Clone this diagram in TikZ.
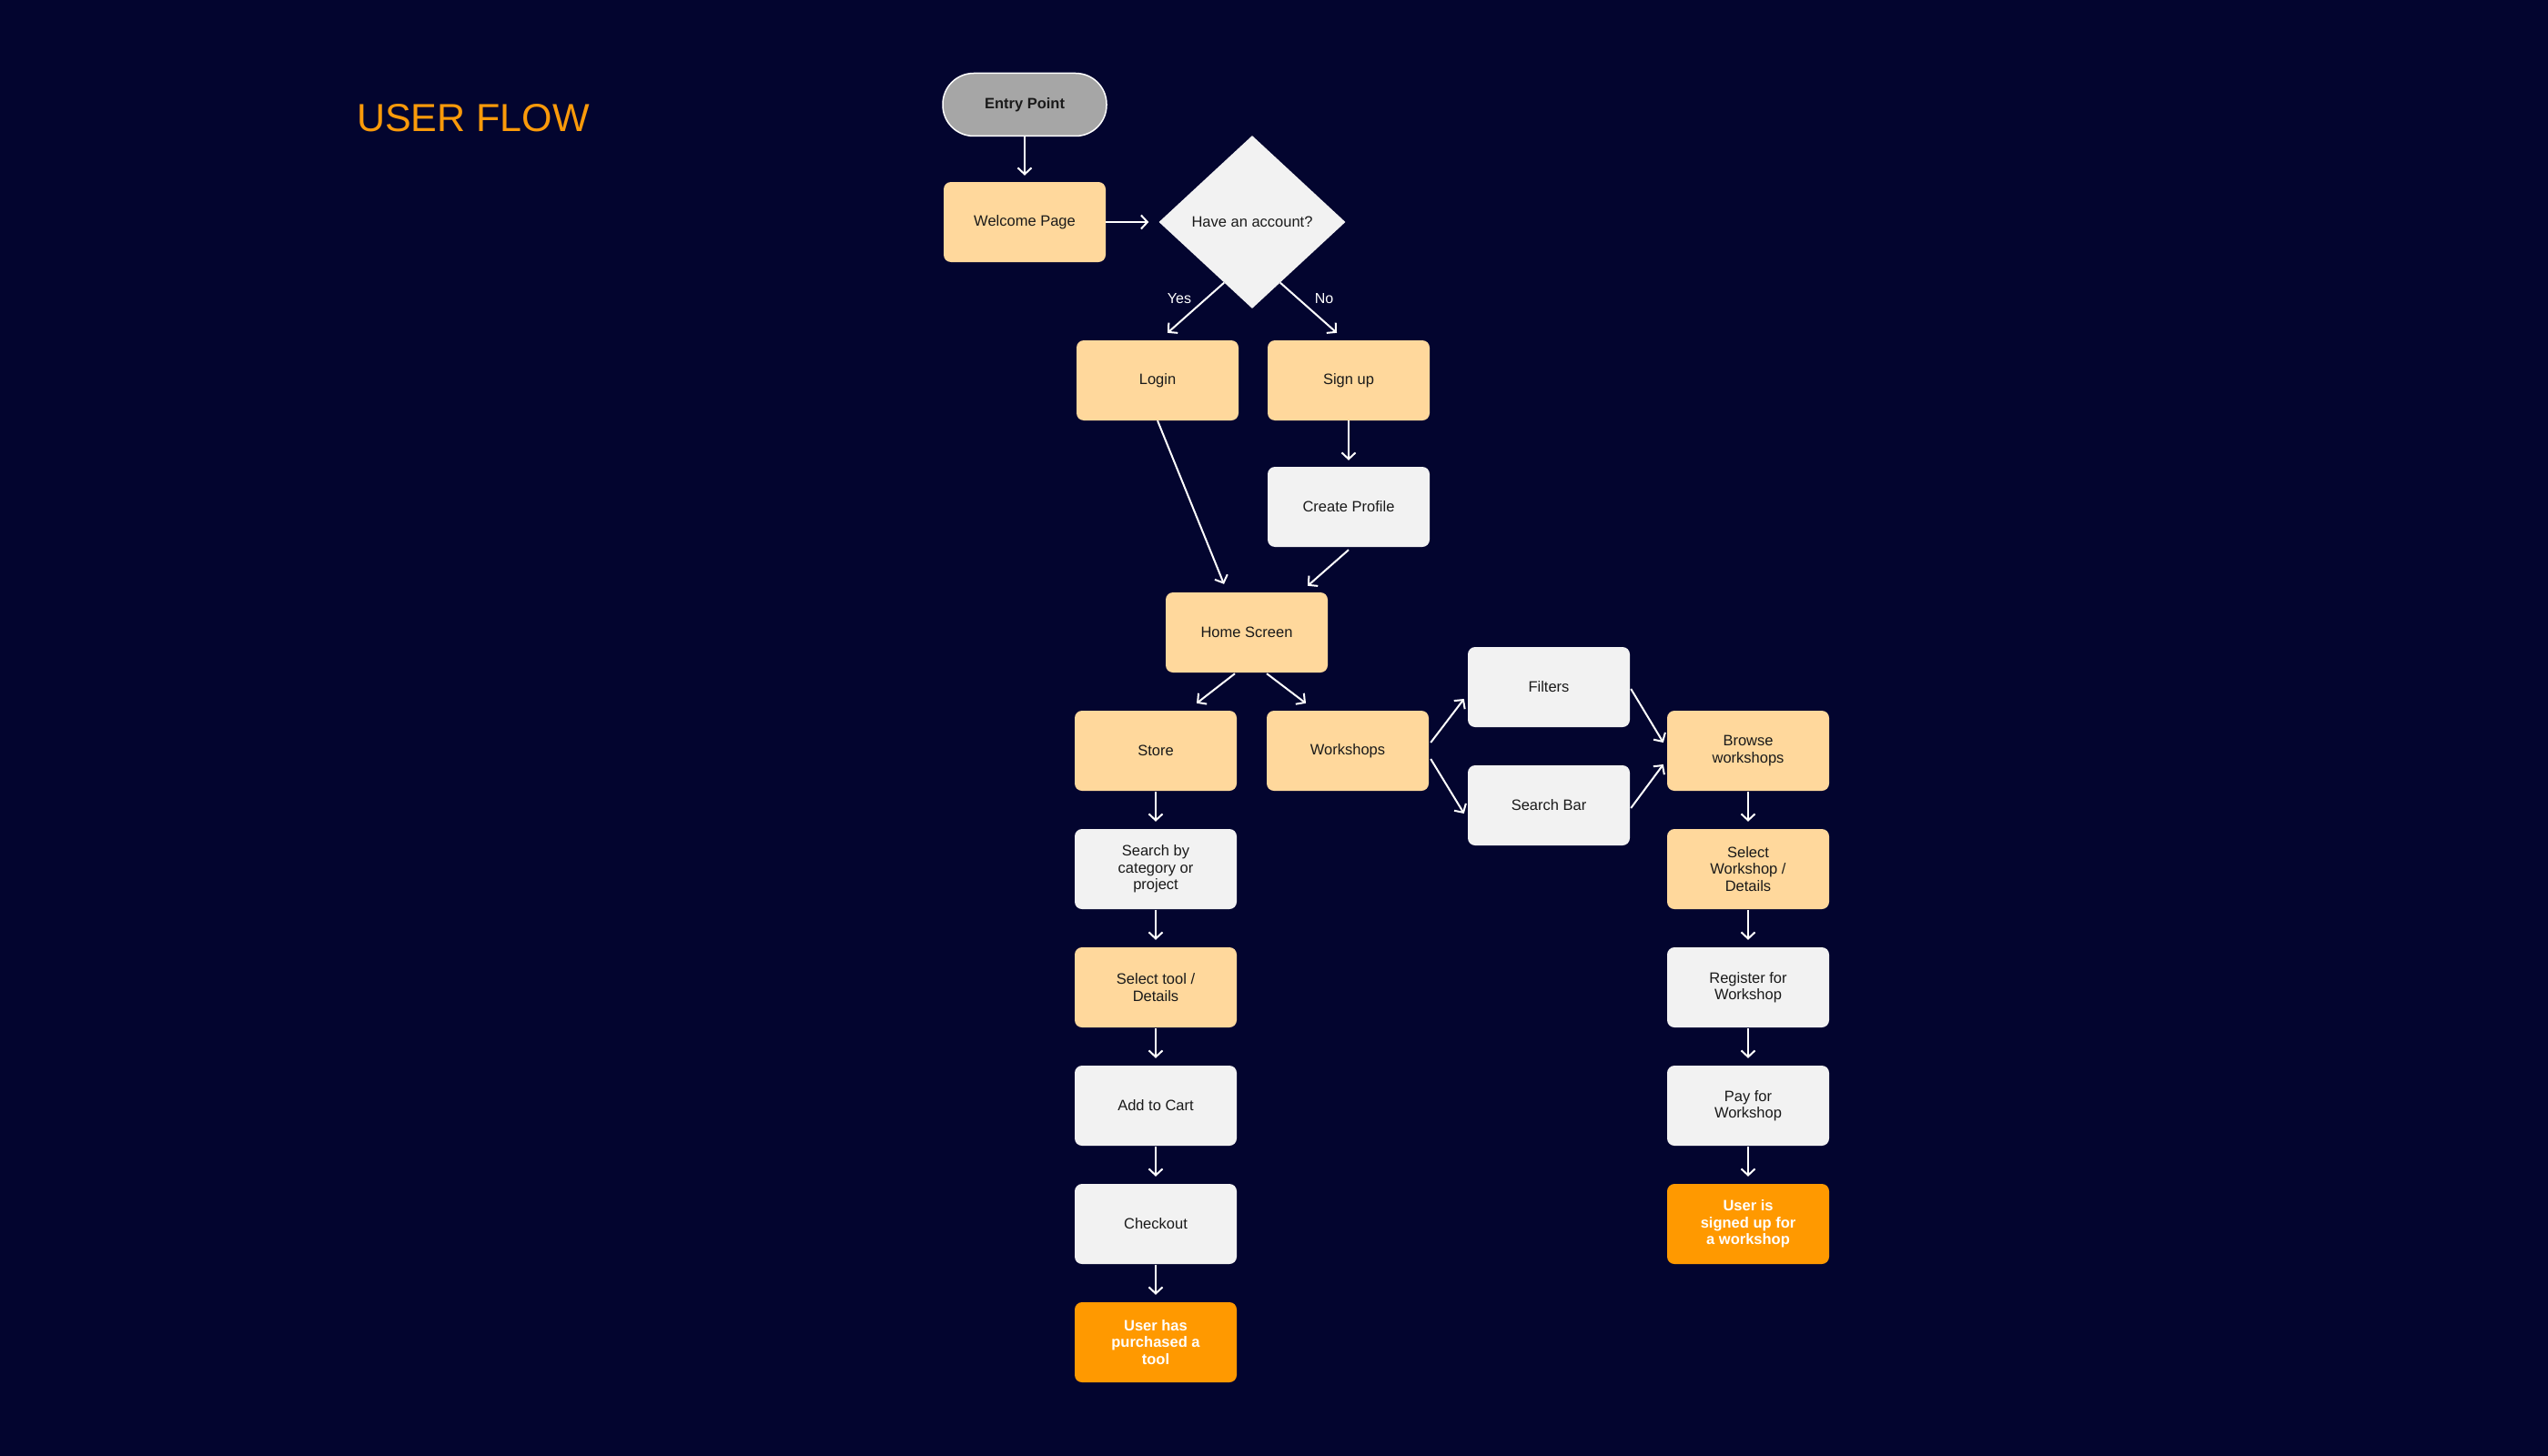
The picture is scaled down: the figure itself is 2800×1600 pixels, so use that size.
\documentclass[tikz,border=0pt]{standalone}
\usepackage{fontspec}
\setmainfont{Liberation Sans}
\usetikzlibrary{shapes.geometric,arrows.meta,calc}
\definecolor{bg}{HTML}{03052F}
\definecolor{peach}{HTML}{FFD89C}
\definecolor{lgray}{HTML}{F2F2F2}
\definecolor{orng}{HTML}{FF9900}
\definecolor{entrygray}{HTML}{A6A6A6}
\definecolor{titleor}{HTML}{FA9A0A}
\definecolor{txt}{HTML}{1A1A1A}
\begin{document}
\begin{tikzpicture}[x=1pt,y=-1pt,
  box/.style={rectangle, rounded corners=8pt, minimum width=178pt, minimum height=88pt,
    inner sep=0pt, align=center, font=\fontsize{16.5}{18.5}\selectfont, text=txt},
  peachbox/.style={box, fill=peach},
  greybox/.style={box, fill=lgray},
  finalbox/.style={box, fill=orng, text=white, font=\fontsize{16.5}{18.5}\selectfont\bfseries},
  flow/.style={draw=white, line width=2pt, -{Straight Barb[length=7pt,width=15pt]}},
  lbl/.style={text=white, font=\fontsize{16}{18}\selectfont, inner sep=0pt},
]
\fill[bg] (0,0) rectangle (2800,1600);
\useasboundingbox (0,0) rectangle (2800,1600);

\node[anchor=base west, text=titleor, font=\fontsize{43}{50}\selectfont, inner sep=0pt] (title) at (392,145) {USER FLOW};

% nodes
\node[rectangle, rounded corners=34pt, minimum width=180pt, minimum height=69pt, inner sep=0pt,
  fill=entrygray, draw=white, line width=1.5pt, text=txt, font=\fontsize{16.5}{18.5}\selectfont\bfseries] (entry) at (1126,115) {Entry Point};
\node[peachbox] (welcome) at (1126,244) {Welcome Page};
\node[diamond, fill=lgray, minimum width=205pt, minimum height=190pt, inner sep=0pt, text=txt,
  font=\fontsize{16.5}{18.5}\selectfont] (dec) at (1376,244) {Have an account?};
\node[peachbox] (login) at (1272,418) {Login};
\node[peachbox] (signup) at (1482,418) {Sign up};
\node[greybox] (create) at (1482,557) {Create Profile};
\node[peachbox] (home) at (1370,695) {Home Screen};
\node[peachbox] (store) at (1270,825) {Store};
\node[peachbox] (work) at (1481,825) {Workshops};
\node[greybox] (filters) at (1702,755) {Filters};
\node[greybox] (sbar) at (1702,885) {Search Bar};
\node[peachbox] (browse) at (1921,825) {Browse\\workshops};

\node[greybox] (search) at (1270,955) {Search by\\category or\\project};
\node[peachbox] (seltool) at (1270,1085) {Select tool /\\Details};
\node[greybox] (cart) at (1270,1215) {Add to Cart};
\node[greybox] (checkout) at (1270,1345) {Checkout};
\node[finalbox] (bought) at (1270,1475) {User has\\purchased a\\tool};

\node[peachbox] (selws) at (1921,955) {Select\\Workshop /\\Details};
\node[greybox] (register) at (1921,1085) {Register for\\Workshop};
\node[greybox] (pay) at (1921,1215) {Pay for\\Workshop};
\node[finalbox] (signed) at (1921,1345) {User is\\signed up for\\a workshop};

% connectors
\draw[flow, shorten >=7pt] (entry.south) -- (welcome.north);
\draw[flow, shorten >=11pt] (welcome.east) -- (dec.west);
\draw[flow] ($(dec.south)!0.3!(dec.west)$) -- ([xshift=11pt,yshift=8pt]login.north);
\draw[flow] ($(dec.south)!0.3!(dec.east)$) -- ([xshift=-13pt,yshift=8pt]signup.north);
\node[lbl] (yes) at (1296,328) {Yes};
\node[lbl] (no) at (1455,328) {No};
\draw[flow, shorten >=7pt] (signup.south) -- (create.north);
\draw[flow] (login.south) -- ([xshift=-25pt,yshift=9pt]home.north);
\draw[flow] ([yshift=-3pt]create.south) -- ([xshift=67pt,yshift=7pt]home.north);
\draw[flow] ([xshift=-13pt,yshift=-1pt]home.south) -- ([xshift=45pt,yshift=8pt]store.north);
\draw[flow] ([xshift=22pt,yshift=-1pt]home.south) -- ([xshift=-46pt,yshift=8pt]work.north);
\draw[flow] ([xshift=2pt,yshift=9pt]work.east) -- ([xshift=-4pt,yshift=-13pt]filters.west);
\draw[flow] ([xshift=2pt,yshift=-9pt]work.east) -- ([xshift=-4pt,yshift=-9pt]sbar.west);
\draw[flow] ([xshift=1pt,yshift=-2pt]filters.east) -- ([xshift=-4pt,yshift=9pt]browse.west);
\draw[flow] ([xshift=1pt,yshift=-3pt]sbar.east) -- ([xshift=-4pt,yshift=-15pt]browse.west);

\foreach \a/\b in {store/search, search/seltool, seltool/cart, cart/checkout, checkout/bought,
  browse/selws, selws/register, register/pay, pay/signed}
  \draw[flow, shorten <=1pt, shorten >=8pt] (\a.south) -- (\b.north);
\end{tikzpicture}
\end{document}
